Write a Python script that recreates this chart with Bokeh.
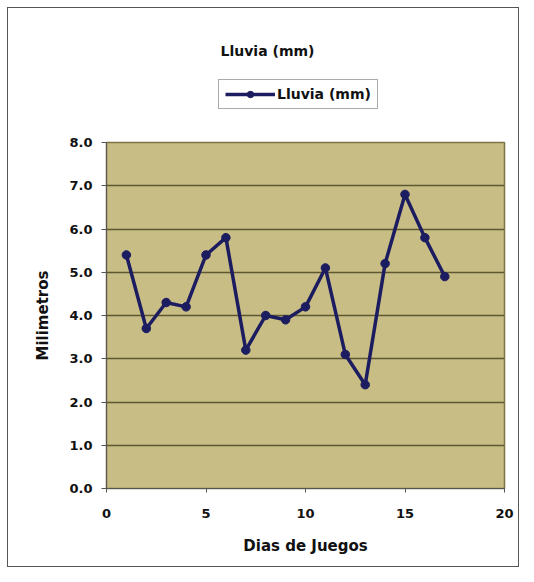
from bokeh.plotting import figure
from bokeh.layouts import column
from bokeh.models import (Range1d, Legend, LegendItem, Label,
                          FixedTicker, NumeralTickFormatter)
from bokeh.embed import file_html
from bokeh.resources import INLINE

# ---- data ----
dias = [1, 2, 3, 4, 5, 6, 7, 8, 9, 10, 11, 12, 13, 14, 15, 16, 17]
lluvia = [5.4, 3.7, 4.3, 4.2, 5.4, 5.8, 3.2, 4.0, 3.9, 4.2, 5.1, 3.1, 2.4, 5.2, 6.8, 5.8, 4.9]
x_ticks = [0, 5, 10, 15, 20]
y_ticks = [0, 1, 2, 3, 4, 5, 6, 7, 8]
titulo = "Lluvia (mm)"
serie = "Lluvia (mm)"
x_label = "Dias de Juegos"
y_label = "Milimetros"

FONT = "DejaVu Sans"
LINE_COLOR = "#1c1c60"
W = 526
HEAD_H = 130
MAIN_H = 444
FRAME_L = 106
FRAME_R = 504

# ---------- header: title + legend ----------
# header frame is aligned with the main frame (x 106..504), so pixel ranges
h = figure(width=W, height=HEAD_H, output_backend="svg", toolbar_location=None,
           x_range=Range1d(FRAME_L, FRAME_R), y_range=Range1d(HEAD_H, 0),
           min_border=0, x_axis_type=None, y_axis_type=None)
h.title = None
h.grid.grid_line_color = None
h.outline_line_color = None
h.background_fill_alpha = 0
h.border_fill_alpha = 0

# legend sample renderers: same series drawn on a range that is out of view
h.extra_x_ranges = {"oculto": Range1d(1000, 1001)}
lr = h.line(dias, lluvia, x_range_name="oculto",
            line_color=LINE_COLOR, line_width=3.5)
sr = h.scatter(dias, lluvia, x_range_name="oculto", marker="circle", size=8.5,
               fill_color=LINE_COLOR, line_color=LINE_COLOR)

legend = Legend(items=[LegendItem(label=serie, renderers=[lr, sr])],
                location=(218 - FRAME_L, HEAD_H - 109), orientation="horizontal",
                border_line_color="#555555", border_line_width=1,
                background_fill_color="white", background_fill_alpha=1,
                label_text_font=FONT, label_text_font_style="bold",
                label_text_font_size="14px", label_text_color="#111111",
                glyph_width=50, glyph_height=16, label_height=16,
                label_standoff=2, padding=6, margin=0, spacing=0)
h.add_layout(legend, "center")

h.add_layout(Label(x=267, y=50, text=titulo, text_align="center",
                   text_baseline="middle", text_font=FONT,
                   text_font_style="bold", text_font_size="14px",
                   text_color="#111111"))

# ---------- main chart ----------
p = figure(width=W, height=MAIN_H, output_backend="svg", toolbar_location=None,
           x_range=Range1d(0, 20), y_range=Range1d(0, 8),
           min_border_left=FRAME_L, min_border_right=W - FRAME_R, min_border_top=12,
           min_border_bottom=86)
p.title = None

p.background_fill_color = "#c9bd86"
p.border_fill_alpha = 0
p.outline_line_color = "#7d7444"
p.outline_line_width = 1.5

p.xgrid.grid_line_color = None
p.ygrid.grid_line_color = "#5e5832"
p.ygrid.grid_line_width = 1.5

for ax in (p.xaxis[0], p.yaxis[0]):
    ax.axis_line_color = "#555555"
    ax.major_tick_line_color = "#555555"
    ax.minor_tick_line_color = None
    ax.major_tick_in = 0
    ax.major_label_text_font = FONT
    ax.major_label_text_font_style = "bold"
    ax.major_label_text_font_size = "13px"
    ax.major_label_text_color = "#111111"
    ax.axis_label_text_font = FONT
    ax.axis_label_text_font_style = "bold"
    ax.axis_label_text_font_size = "15px"
    ax.axis_label_text_color = "#111111"

p.xaxis.ticker = FixedTicker(ticks=x_ticks)
p.yaxis.ticker = FixedTicker(ticks=y_ticks)
p.yaxis.formatter = NumeralTickFormatter(format="0.0")
p.xaxis.major_tick_out = 4
p.xaxis.major_label_standoff = 16
p.yaxis.major_tick_out = 5
p.yaxis.major_label_standoff = 9
p.xaxis.axis_label = x_label
p.yaxis.axis_label = y_label
p.xaxis.axis_label_standoff = 16
p.yaxis.axis_label_standoff = 14

p.line(dias, lluvia, line_color=LINE_COLOR, line_width=3.5)
p.scatter(dias, lluvia, marker="circle", size=8.5,
          fill_color=LINE_COLOR, line_color=LINE_COLOR)

layout = column(h, p, spacing=0,
                styles={"outline": "1.5px solid #555555", "outline-offset": "-8px",
                        "background-color": "white"})
open("out.html", "w").write(file_html(layout, INLINE))
